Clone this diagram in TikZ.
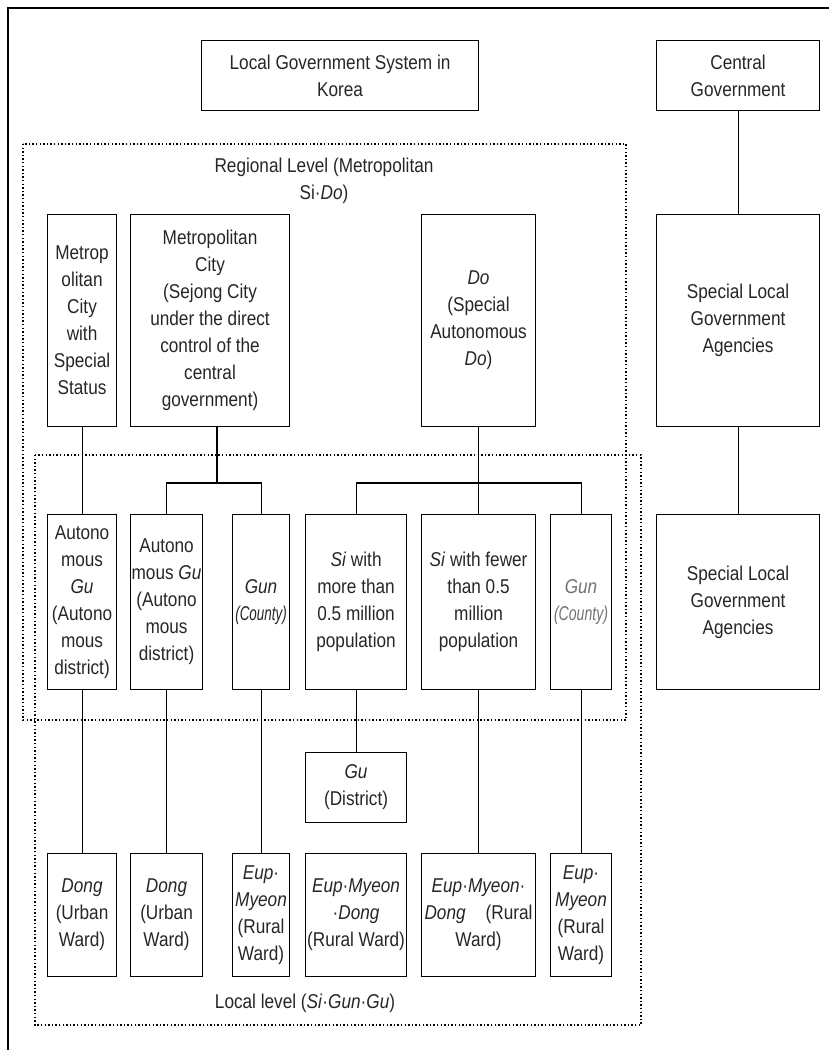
\documentclass[tikz,border=0pt]{standalone}
\usepackage{fontspec}
\setmainfont[FakeStretch=0.86]{Liberation Sans}
\usetikzlibrary{calc, positioning}

\begin{document}
\begin{tikzpicture}[
    x=1pt, y=-1pt,
    font=\fontsize{20}{27}\selectfont,
    line width=1.1pt,
    box/.style={
        draw,
        rectangle,
        anchor=north west,
        inner sep=0pt,
        align=center,
        text=black!85
    },
    upper/.style={
        minimum height=212pt
    },
    middle/.style={
        minimum height=175pt
    },
    lower/.style={
        minimum height=123pt
    },
    level/.style={
        draw,
        line width=1.4pt,
        dash pattern=on 1.4pt off 2.2pt
    },
    caption/.style={
        align=center,
        inner sep=0pt,
        text=black!85
    }
]
    \useasboundingbox (0,0) rectangle (829,1053);

    % Frame
    \draw [line width=1.5pt] (8,1050) -- (8,8) -- (829,8);

    % Levels
    \draw [level] (23,144) rectangle (626,720);
    \draw [level] (35,455) rectangle (641,1025);
    \node [caption] (regional) at (324,181) {Regional Level (Metropolitan\\Si·\textit{Do})};
    \node [caption] (local) at (305,1003) {Local level (\textit{Si}·\textit{Gun}·\textit{Gu})};

    % Headers
    \node [box, minimum width=277pt, minimum height=70pt] (title) at (201,40) {Local Government System in\\Korea};
    \node [box, minimum width=163pt, minimum height=70pt] (central) at (656,40) {Central\\Government};

    % Regional units
    \node [box, upper, minimum width=69pt] (special) at (47,214) {Metrop\\olitan\\City\\with\\Special\\Status};
    \node [box, upper, minimum width=159pt] (metro) at (130,214) {Metropolitan\\City\\(Sejong City\\under the direct\\control of the\\central\\government)};
    \node [box, upper, minimum width=114pt] (do) at (421,214) {\textit{Do}\\(Special\\Autonomous\\\textit{Do})};
    \node [box, upper, minimum width=163pt] (agency1) at (656,214) {Special Local\\Government\\Agencies};

    % Local units
    \node [box, middle, minimum width=69pt] (agu1) at (47,514) {Autono\\mous\\\textit{Gu}\\(Autono\\mous\\district)};
    \node [box, middle, minimum width=72pt] (agu2) at (130,514) {Autono\\mous \textit{Gu}\\(Autono\\mous\\district)};
    \node [box, middle, minimum width=57pt] (gun1) at (232,514) {\textit{Gun}\\\scalebox{0.78}[1]{\textit{(County)}}};
    \node [box, middle, minimum width=101pt] (sibig) at (305,514) {\textit{Si} with\\more than\\0.5 million\\population};
    \node [box, middle, minimum width=114pt] (sismall) at (421,514) {\textit{Si} with fewer\\than 0.5\\million\\population};
    \node [box, middle, minimum width=61pt, text=black!55] (gun2) at (550,514) {\textit{Gun}\\\scalebox{0.82}[1]{\textit{(County)}}};
    \node [box, middle, minimum width=163pt] (agency2) at (656,514) {Special Local\\Government\\Agencies};
    \node [box, minimum width=101pt, minimum height=70pt] (gu) at (305,752) {\textit{Gu}\\(District)};

    % Wards
    \node [box, lower, minimum width=69pt] (dong1) at (47,853) {\textit{Dong}\\(Urban\\Ward)};
    \node [box, lower, minimum width=72pt] (dong2) at (130,853) {\textit{Dong}\\(Urban\\Ward)};
    \node [box, lower, minimum width=57pt] (eup1) at (232,853) {\textit{Eup}·\\\textit{Myeon}\\(Rural\\Ward)};
    \node [box, lower, minimum width=101pt] (emd1) at (305,853) {\textit{Eup}·\textit{Myeon}\\·\textit{Dong}\\(Rural Ward)};
    \node [box, lower, minimum width=114pt] (emd2) at (421,853) {\textit{Eup}·\textit{Myeon}·\\\textit{Dong}\quad(Rural\\Ward)};
    \node [box, lower, minimum width=61pt] (eup2) at (550,853) {\textit{Eup}·\\\textit{Myeon}\\(Rural\\Ward)};

    % Straight links
    \foreach \a/\b in {central/agency1, agency1/agency2, special/agu1, agu1/dong1, agu2/dong2, gun1/eup1, sibig/gu, do/sismall, sismall/emd2, gun2/eup2} {
        \draw (\a) -- (\b);
    }

    % Forks
    \coordinate (metrofork) at (217,483);
    \coordinate (dofork) at (do.south |- metrofork);
    \draw (metrofork |- metro.south) -- (metrofork);
    \draw (agu2.north) |- (metrofork) -| (gun1.north);
    \draw (sibig.north) |- (dofork) -| (gun2.north);

\end{tikzpicture}
\end{document}
